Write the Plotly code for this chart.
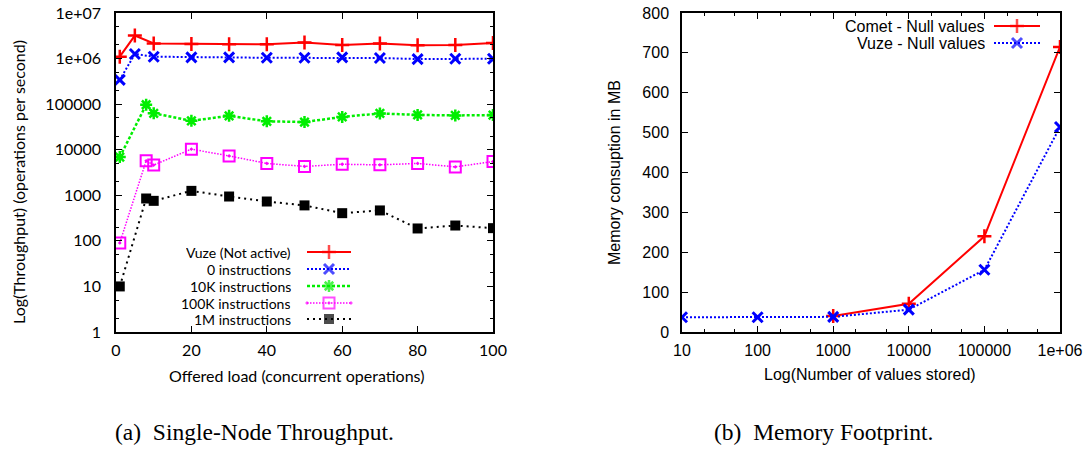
import plotly.graph_objects as go

W, H = 1091, 461

# ---------------- data: (a) single-node throughput ----------------
load_vuze = [1, 5, 10, 20, 30, 40, 50, 60, 70, 80, 90, 100]
vuze = [1.1e6, 3.2e6, 2.15e6, 2.1e6, 2.05e6, 2.05e6, 2.25e6, 1.98e6, 2.15e6, 1.95e6, 1.98e6, 2.2e6]

load_0 = [1, 5, 10, 20, 30, 40, 50, 60, 70, 80, 90, 100]
instr_0 = [3.4e5, 1.26e6, 1.1e6, 1.06e6, 1.06e6, 1.04e6, 1.04e6, 1.06e6, 1.03e6, 0.975e6, 0.99e6, 0.99e6]

load_i = [1, 8, 10, 20, 30, 40, 50, 60, 70, 80, 90, 100]
instr_10k = [6900, 97000, 63000, 43000, 55500, 42000, 40500, 52500, 62500, 58000, 56500, 57500]
instr_100k = [90, 5700, 4600, 10300, 7300, 5000, 4300, 4800, 4650, 5000, 4200, 5500]
instr_1m = [10, 850, 755, 1250, 940, 730, 600, 405, 465, 187, 217, 190]

y_tickvals = [1, 10, 100, 1000, 10000, 100000, 1e6, 1e7]
y_ticktext = ["1", "10", "100", "1000", "10000", "100000", "1e+06", "1e+07"]
x_tickvals_a = [0, 20, 40, 60, 80, 100]

# ---------------- data: (b) memory footprint ----------------
n_comet = [1000, 10000, 100000, 1000000]
comet = [40, 71, 240, 715]
n_vuze = [10, 100, 1000, 10000, 100000, 1000000]
vuze_mem = [37, 37, 38, 56, 156, 514]
x_tickvals_b = [10, 100, 1000, 10000, 100000, 1000000]
x_ticktext_b = ["10", "100", "1000", "10000", "100000", "1e+06"]

# ---------------- styles ----------------
SANS_A = "Lato"
SANS_B = "Liberation Sans"
SERIF = "Liberation Serif"

series_a = [
    ("Vuze (Not active)", load_vuze, vuze, "#ff0000", "solid", 2, "cross-thin-open", 10, 2.5),
    ("0 instructions", load_0, instr_0, "#0000ff", "2px,2px", 2, "x-thin-open", 10, 3),
    ("10K instructions", load_i, instr_10k, "#00ee00", "3px,2px", 2.5, "asterisk-open", 10, 2.5),
    ("100K instructions", load_i, instr_100k, "#ff00ff", "1.5px,1.5px", 1.5, "square-open-dot", 11, 2),
    ("1M instructions", load_i, instr_1m, "#000000", "2px,4px", 2, "square", 10, 0),
]
series_b = [
    ("Comet - Null values", n_comet, comet, "#ff0000", "solid", 2, "cross-thin-open", 10, 2.5),
    ("Vuze - Null values", n_vuze, vuze_mem, "#0000ff", "2px,2px", 2, "x-thin-open", 10, 3),
]

fig = go.Figure()

def px_x(x):
    return x / W

def px_y(y):
    return 1 - y / H

def add_series(s, xa, ya):
    name, xs, ys, col, dash, lw, sym, ms, mlw = s
    fig.add_trace(go.Scatter(
        x=xs, y=ys, name=name, mode="lines+markers", xaxis=xa, yaxis=ya,
        line=dict(color=col, width=lw, dash=dash),
        marker=dict(symbol=sym, size=ms, color=col, line=dict(color=col, width=mlw)),
        showlegend=False))

for s in series_a:
    add_series(s, "x", "y")
for s in series_b:
    add_series(s, "x2", "y2")

def text(x, y, t, family, size, xanchor="center", angle=0, height=None):
    fig.add_annotation(x=px_x(x), y=px_y(y), xref="paper", yref="paper", text=t,
                       showarrow=False, xanchor=xanchor, yanchor="middle", textangle=angle,
                       height=height, borderpad=0,
                       font=dict(family=family, size=size, color="black"))

# manual gnuplot-style legends (text right, sample on the right) on a pixel overlay axis
leg_a_rows = [252, 269, 286, 303, 319]
for s, ry in zip(series_a, leg_a_rows):
    name, xs, ys, col, dash, lw, sym, ms, mlw = s
    fig.add_trace(go.Scatter(
        x=[307, 329, 351], y=[ry, ry, ry], mode="lines+markers", xaxis="x3", yaxis="y3",
        line=dict(color=col, width=lw, dash=dash),
        marker=dict(symbol=sym, size=[0, ms, 0], color=col, line=dict(color=col, width=mlw)),
        showlegend=False, hoverinfo="skip"))
    text(292, ry, name, SANS_A, 14, xanchor="right", height=16)

leg_b_rows = [26, 43]
for s, ry in zip(series_b, leg_b_rows):
    name, xs, ys, col, dash, lw, sym, ms, mlw = s
    fig.add_trace(go.Scatter(
        x=[994, 1017, 1040], y=[ry, ry, ry], mode="lines+markers", xaxis="x3", yaxis="y3",
        line=dict(color=col, width=lw, dash=dash),
        marker=dict(symbol=sym, size=[0, ms, 0], color=col, line=dict(color=col, width=mlw)),
        showlegend=False, hoverinfo="skip"))
    text(986, ry, name, SANS_B, 16, xanchor="right", height=16)

common_axis = dict(showline=True, linecolor="black", linewidth=1.5, mirror="allticks",
                   ticks="inside", ticklen=6, tickwidth=1, tickcolor="black",
                   showgrid=False, zeroline=False, automargin=False)

yd = [px_y(332), px_y(13)]
fig.update_layout(
    width=W, height=H, margin=dict(l=0, r=0, t=0, b=0, autoexpand=False),
    paper_bgcolor="white", plot_bgcolor="rgba(0,0,0,0)",
    xaxis=dict(domain=[px_x(116), px_x(493)], range=[0, 100], anchor="y",
               tickvals=x_tickvals_a, ticklabelstandoff=3,
               tickfont=dict(family=SANS_A, size=16, color="black"), **common_axis),
    yaxis=dict(domain=yd, type="log", range=[0, 7], anchor="x",
               tickvals=y_tickvals, ticktext=y_ticktext, ticklabelstandoff=10,
               minor=dict(ticks="inside", ticklen=3, tickcolor="black", showgrid=False),
               tickfont=dict(family=SANS_A, size=16, color="black"), **common_axis),
    xaxis2=dict(domain=[px_x(682), px_x(1060)], type="log", range=[1, 6], anchor="y2",
                tickvals=x_tickvals_b, ticktext=x_ticktext_b, ticklabelstandoff=3,
                minor=dict(ticks="inside", ticklen=3, tickcolor="black", showgrid=False),
                tickfont=dict(family=SANS_B, size=16, color="black"), **common_axis),
    yaxis2=dict(domain=yd, range=[0, 800], dtick=100, anchor="x2", ticklabelstandoff=8,
                tickfont=dict(family=SANS_B, size=16, color="black"), **common_axis),
    xaxis3=dict(domain=[0, 1], range=[0, W], anchor="y3", visible=False, fixedrange=True),
    yaxis3=dict(domain=[0, 1], range=[H, 0], anchor="x3", visible=False, fixedrange=True),
)

# axis titles
text(18, 182, "Log(Throughput) (operations per second)", SANS_A, 16, angle=-90)
text(296, 375, "Offered load (concurrent operations)", SANS_A, 16)
text(614, 173, "Memory consuption in MB", SANS_B, 16, angle=-90)
text(870, 374, "Log(Number of values stored)", SANS_B, 16)

# captions
text(254, 432, "(a)  Single-Node Throughput.", SERIF, 23.5)
text(823, 432, "(b)  Memory Footprint.", SERIF, 23.5)

fig.write_html("out.html")
